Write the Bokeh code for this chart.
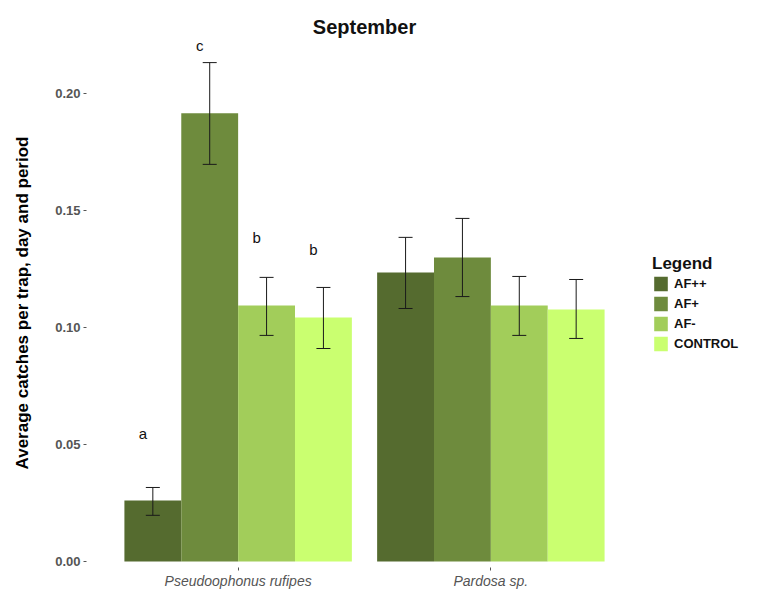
from bokeh.plotting import figure
from bokeh.models import (ColumnDataSource, FixedTicker, PrintfTickFormatter,
                          Whisker, TeeHead, Legend, LegendItem, Range1d)
from bokeh.core.properties import value
from bokeh.embed import file_html
from bokeh.resources import INLINE

species = ["Pseudoophonus rufipes", "Pardosa sp."]
treatments = ["AF++", "AF+", "AF-", "CONTROL"]
colors = ["#556B2F", "#6E8B3D", "#A2CD5A", "#CAFF70"]

mean_afpp = [0.0260, 0.1235]
mean_afp = [0.1915, 0.1299]
mean_afm = [0.1094, 0.1094]
mean_ctrl = [0.1043, 0.1077]

low_afpp = [0.0197, 0.1081]
up_afpp = [0.0316, 0.1385]
low_afp = [0.1697, 0.1132]
up_afp = [0.2132, 0.1466]
low_afm = [0.0966, 0.0966]
up_afm = [0.1214, 0.1218]
low_ctrl = [0.0910, 0.0953]
up_ctrl = [0.1171, 0.1205]

letters = ["a", "c", "b", "b"]
letter_y = [0.0547, 0.2205, 0.1385, 0.1333]

y_ticks = [0.0, 0.05, 0.10, 0.15, 0.20]

FONT = "Liberation Sans"

group_pos = [i + 1 for i in range(len(species))]
n_t = len(treatments)
bar_w = 0.9 / n_t
offsets = [(k - (n_t - 1) / 2) * bar_w for k in range(n_t)]

p = figure(frame_width=556, frame_height=529,
           x_range=Range1d(0.4, 2.6), y_range=Range1d(-0.0026, 0.2235),
           output_backend="svg", toolbar_location=None,
           title="September", min_border_left=86, min_border_right=0, min_border_bottom=0,
           min_border_top=38)

means = [mean_afpp, mean_afp, mean_afm, mean_ctrl]
lows = [low_afpp, low_afp, low_afm, low_ctrl]
ups = [up_afpp, up_afp, up_afm, up_ctrl]

items = []
for t, c, off, m, lo, hi in zip(treatments, colors, offsets, means, lows, ups):
    xs = [g + off for g in group_pos]
    src = ColumnDataSource(dict(x=xs, mean=m, lower=lo, upper=hi))
    r = p.vbar(x="x", top="mean", bottom=0, width=bar_w,
               source=src, fill_color=c, line_color=None)
    items.append(LegendItem(label=t, renderers=[r]))
    w = Whisker(base="x", upper="upper", lower="lower", dimension="height",
                source=src, line_color="#1a1a1a", line_width=1, level="overlay",
                upper_head=TeeHead(size=14, line_color="#1a1a1a", line_width=1),
                lower_head=TeeHead(size=14, line_color="#1a1a1a", line_width=1))
    p.add_layout(w)

lsrc = ColumnDataSource(dict(x=[group_pos[0] + o for o in offsets], y=letter_y, t=letters))
p.text(x="x", y="y", text="t", source=lsrc,
       text_align="center", text_baseline="middle", text_font=value(FONT),
       text_font_size="15px", text_color="#111111", x_offset=-10)

legend = Legend(items=items, title="Legend", location="center_left", orientation="vertical")
legend.title_text_font = FONT
legend.title_text_font_style = "bold"
legend.title_text_font_size = "17px"
legend.title_text_color = "#111111"
legend.title_standoff = 1
legend.label_text_font = FONT
legend.label_text_font_style = "bold"
legend.label_text_font_size = "13px"
legend.label_text_color = "#111111"
legend.glyph_width = 17
legend.glyph_height = 18
legend.label_height = 18
legend.spacing = 2
legend.label_standoff = 5
legend.padding = 2
legend.margin = 10
legend.border_line_color = None
legend.background_fill_color = None
p.add_layout(legend, "right")

p.title.align = "center"
p.title.text_font = FONT
p.title.text_font_size = "20px"
p.title.text_font_style = "bold"
p.title.text_color = "#111111"
p.title.standoff = 2

p.xgrid.visible = False
p.ygrid.visible = False
p.outline_line_color = None
p.background_fill_color = "white"

p.yaxis.ticker = FixedTicker(ticks=y_ticks)
p.yaxis.formatter = PrintfTickFormatter(format="%.2f")
p.yaxis.axis_label = "Average catches per trap, day and period"
p.yaxis.axis_label_text_font = FONT
p.yaxis.axis_label_text_font_size = "17px"
p.yaxis.axis_label_text_font_style = "bold"
p.yaxis.axis_label_text_color = "black"
p.yaxis.axis_label_standoff = 20
p.yaxis.major_label_text_font = FONT
p.yaxis.major_label_text_font_size = "13px"
p.yaxis.major_label_text_font_style = "bold"
p.yaxis.major_label_text_color = "#555555"
p.yaxis.minor_tick_line_color = None
p.yaxis.major_label_standoff = 3

p.xaxis.ticker = FixedTicker(ticks=group_pos)
p.xaxis.major_label_overrides = {g: s for g, s in zip(group_pos, species)}
p.xaxis.major_label_text_font = FONT
p.xaxis.major_label_text_font_size = "14px"
p.xaxis.major_label_text_font_style = "italic"
p.xaxis.major_label_text_color = "#555555"
p.xaxis.minor_tick_line_color = None
p.xaxis.major_label_standoff = 2

for ax in (p.xaxis, p.yaxis):
    ax.axis_line_color = None
    ax.major_tick_in = 0
    ax.major_tick_out = 3
    ax.major_tick_line_color = "#555555"

open("out.html", "w").write(file_html(p, INLINE))
